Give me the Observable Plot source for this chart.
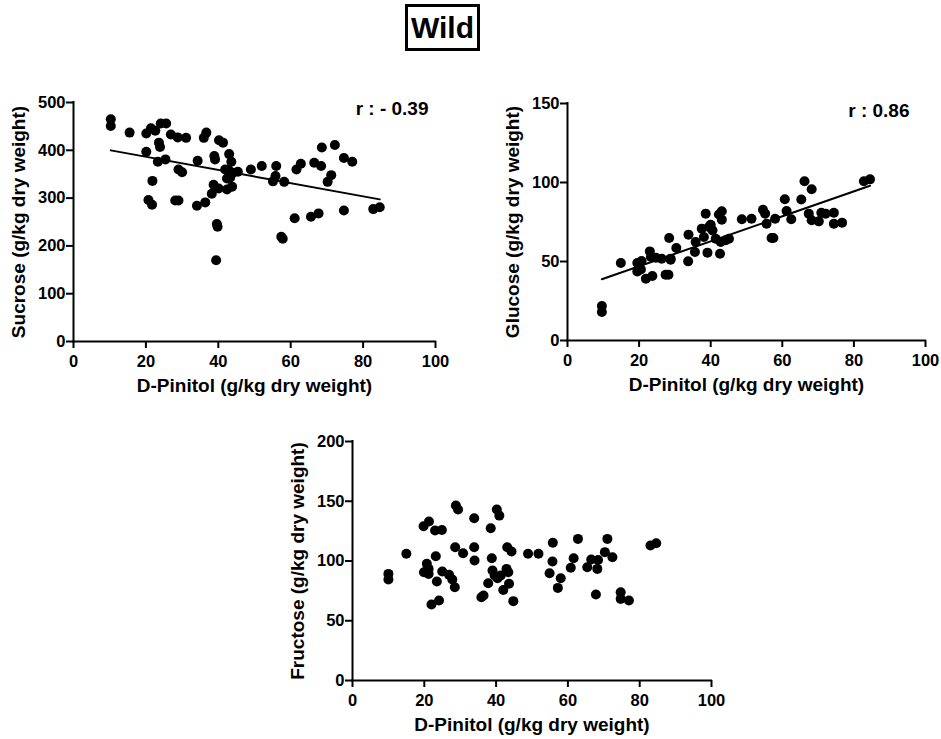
<!DOCTYPE html>
<html><head><meta charset="utf-8">
<script src="https://cdn.jsdelivr.net/npm/d3@7"></script>
<script src="https://cdn.jsdelivr.net/npm/@observablehq/plot@0.6"></script>
<style>
body{margin:0;background:#fff;font-family:"Liberation Sans",Arial,sans-serif;}
#root{position:relative;width:941px;height:739px;overflow:hidden;background:#fff}
.panel{position:absolute}
#title{position:absolute;left:405px;top:4px;width:69px;height:41px;border:3px solid #000;font-weight:bold;font-size:30px;text-align:center;line-height:42px;color:#000}
</style></head><body><div id="root"><div id="title">Wild</div></div>
<script>
const xTicks = [0, 20, 40, 60, 80, 100];
const xLabel = "D-Pinitol (g/kg dry weight)";

const sucrosePinitol = [10.3,10.3,15.5,20.1,21.4,22.6,24.1,25.6,26.9,28.8,31.1,20.1,23.6,23.9,23.3,25.4,21.8,20.7,21.7,28.1,29.0,29.0,30.0,34.1,36.4,34.3,36.0,36.7,38.9,39.1,40.2,41.3,38.7,38.2,40.1,39.6,39.8,39.4,43.0,43.6,41.9,42.9,44.0,45.4,42.4,43.3,42.4,43.8,49.0,52.0,56.0,55.8,55.1,58.2,57.4,57.8,61.1,61.6,62.8,65.6,67.7,66.5,68.4,68.6,72.2,71.2,70.2,74.7,77.0,74.7,82.8,84.6];
const sucrose = [465,451,437,435,446,441,456,456,433,427,426,397,416,407,376,381,336,296,286,295,295,360,354,284,291,378,426,437,388,381,421,416,328,309,320,246,240,170,392,376,360,358,353,355,341,343,318,324,360,367,367,346,335,334,219,215,258,360,372,261,268,374,367,406,411,348,334,384,376,274,277,281];
const sucroseTicks = [0, 100, 200, 300, 400, 500];

const glucosePinitol = [9.6,9.6,14.9,19.5,20.7,19.5,20.5,21.9,23.7,23.0,23.3,24.7,26.3,28.8,27.4,28.2,28.4,30.4,28.8,33.7,33.8,35.6,35.8,37.5,38.1,38.6,39.1,39.5,40.0,40.5,41.4,42.3,43.1,43.1,42.6,42.8,44.2,45.1,48.7,51.4,54.6,55.2,55.6,57.0,57.5,58.0,60.7,61.2,62.5,65.3,66.2,68.2,67.4,68.2,70.2,70.9,72.1,74.4,74.4,76.7,82.8,84.5];
const glucose = [21.8,18.0,49.0,49.0,50.3,43.7,45.0,39.1,40.8,56.4,52.8,52.4,51.8,51.8,41.6,41.6,64.9,58.5,51.1,50.1,67.0,56.0,62.3,70.8,65.5,80.3,55.6,71.8,73.3,69.7,64.4,79.7,81.8,76.5,54.9,62.3,63.4,64.4,76.7,77.1,82.8,80.3,73.9,64.9,64.9,77.1,89.4,82.0,76.7,89.2,100.8,95.7,80.3,76.1,75.4,80.9,80.3,80.9,73.9,74.6,100.8,102.0];
const glucoseTicks = [0, 50, 100, 150];

const fructosePinitol = [10.0,10.0,15.0,19.8,21.3,23.0,24.9,20.7,21.2,19.9,21.2,23.2,23.5,22.0,24.1,25.0,26.9,27.8,28.5,28.6,28.8,29.4,30.8,33.9,33.9,34.0,35.9,36.5,38.5,38.8,39.0,40.2,40.9,37.8,39.6,40.4,41.3,42.0,42.9,43.6,43.1,44.3,44.8,43.4,48.9,51.8,55.8,55.7,54.9,58.0,57.2,60.8,61.6,62.8,65.4,66.5,68.4,68.2,67.8,70.3,71.0,72.4,74.7,74.7,77.0,83.0,84.6];
const fructose = [89.2,84.5,106.0,129.1,133.0,125.5,126.0,97.6,93.4,90.6,89.2,104.0,82.8,63.6,66.9,91.2,88.4,84.5,78.1,111.5,146.4,143.1,106.5,135.8,111.5,100.4,69.7,71.1,127.4,102.3,92.0,143.1,138.0,81.4,87.8,85.6,87.8,75.8,93.4,80.9,111.5,107.9,66.4,90.6,106.0,106.0,115.2,99.6,89.8,85.6,77.5,94.3,102.3,118.5,94.8,101.2,100.9,93.4,71.9,107.4,118.5,103.2,73.9,68.3,66.9,112.9,114.9];
const fructoseTicks = [0, 50, 100, 150, 200];

const panels = [
  {xs: sucrosePinitol, ys: sucrose, yTicks: sucroseTicks, yLabel: "Sucrose (g/kg dry weight)", r: "r : - 0.39", fit: true,
   left: 0, top: 85, width: 450, height: 320, mt: 17, mr: 15, mb: 64, ml: 73, rdx: -7, rdy: 6},
  {xs: glucosePinitol, ys: glucose, yTicks: glucoseTicks, yLabel: "Glucose (g/kg dry weight)", r: "r : 0.86", fit: true,
   left: 490, top: 85, width: 450, height: 320, mt: 18, mr: 15, mb: 65, ml: 77, rdx: -16, rdy: 7},
  {xs: fructosePinitol, ys: fructose, yTicks: fructoseTicks, yLabel: "Fructose (g/kg dry weight)", r: null, fit: false,
   left: 275, top: 425, width: 450, height: 314, mt: 16, mr: 14, mb: 59, ml: 77, rdx: 0, rdy: 0}
];

const root = document.getElementById("root");
for (const p of panels) {
  const data = p.xs.map((x, i) => ({x, y: p.ys[i]}));
  const yMax = p.yTicks[p.yTicks.length - 1];
  const marks = [
    Plot.dot(data, {x: "x", y: "y", r: 5, fill: "#000", stroke: "none"}),
    Plot.ruleY([0], {stroke: "#000", strokeWidth: 2, strokeLinecap: "square"}),
    Plot.ruleX([0], {stroke: "#000", strokeWidth: 2, strokeLinecap: "square"}),
    Plot.axisX({ticks: xTicks, tickSize: 7, tickPadding: 7, strokeWidth: 2, fontSize: 16.5, fontWeight: "bold", label: null, fill: "#000", stroke: "#000"}),
    Plot.axisY({ticks: p.yTicks, tickSize: 7, tickPadding: 1, strokeWidth: 2, fontSize: 16.5, fontWeight: "bold", label: null, fill: "#000", stroke: "#000"}),
    Plot.text([xLabel], {text: d => d, frameAnchor: "bottom", textAnchor: "middle", dy: 44, lineAnchor: "middle", fontSize: 19, fontWeight: "bold", fill: "#000"}),
    Plot.text([p.yLabel], {text: d => d, frameAnchor: "left", textAnchor: "middle", dx: -55, rotate: -90, lineAnchor: "middle", fontSize: 19, fontWeight: "bold", fill: "#000"})
  ];
  if (p.fit) marks.push(Plot.linearRegressionY(data, {x: "x", y: "y", ci: 0, stroke: "#000", strokeWidth: 2}));
  if (p.r) marks.push(Plot.text([p.r], {text: d => d, frameAnchor: "top-right", textAnchor: "end", lineAnchor: "middle", dx: p.rdx, dy: p.rdy, fontSize: 19, fontWeight: "bold", fill: "#000"}));
  const svg = Plot.plot({
    width: p.width, height: p.height,
    marginTop: p.mt, marginRight: p.mr, marginBottom: p.mb, marginLeft: p.ml,
    style: {fontFamily: "'Liberation Sans', Arial, sans-serif", background: "#fff", color: "#000", overflow: "visible"},
    x: {domain: [0, 100]},
    y: {domain: [0, yMax]},
    marks
  });
  svg.classList.add("panel");
  svg.style.left = p.left + "px";
  svg.style.top = p.top + "px";
  svg.style.position = "absolute";
  root.appendChild(svg);
}
</script></body></html>
